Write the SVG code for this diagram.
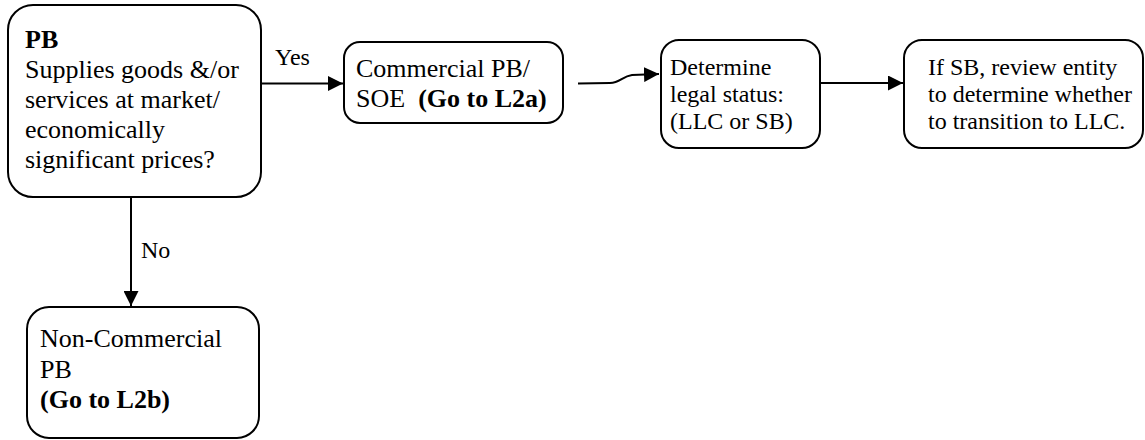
<svg xmlns="http://www.w3.org/2000/svg" width="1145" height="440" viewBox="0 0 1145 440">
<style>
.box{fill:#fff;stroke:#000;stroke-width:2}
text{font-family:'Liberation Serif',Tinos,'Times New Roman',Times,'DejaVu Serif',serif;fill:#000}
.big{font-size:26px}
.sm{font-size:24px}
.b{font-weight:bold}
.ln{fill:none;stroke:#000;stroke-width:2}
</style>
<defs>
<marker id="ah" markerWidth="15" markerHeight="15" refX="15" refY="7.5" orient="auto" markerUnits="userSpaceOnUse">
<path d="M0,0 L15,7.5 L0,15 Z" fill="#000"/>
</marker>
</defs>
<rect width="1145" height="440" fill="#fff"/>
<g id="connectors">
<line class="ln" x1="261" y1="83.5" x2="343" y2="83.5" marker-end="url(#ah)"/>
<path class="ln" d="M578,83.5 L610,83 C620,83 622,76.5 632,75 L659,74" marker-end="url(#ah)"/>
<line class="ln" x1="820" y1="83" x2="903" y2="83" marker-end="url(#ah)"/>
<line class="ln" x1="131" y1="197" x2="131" y2="306" marker-end="url(#ah)"/>
<text class="sm" x="275" y="65" font-family="Liberation Serif, serif">Yes</text>
<text class="sm" x="141" y="258" font-family="Liberation Serif, serif">No</text>
</g>
<g id="node-pb">
<rect class="box" x="8" y="5" width="253" height="192" rx="25"/>
<text class="big" font-family="Liberation Serif, serif"><tspan class="b" x="25" y="48">PB</tspan><tspan x="25" y="78">Supplies goods &amp;/or</tspan><tspan x="25" y="108">services at market/</tspan><tspan x="25" y="138">economically</tspan><tspan x="25" y="168">significant prices?</tspan></text>
</g>
<g id="node-commercial">
<rect class="box" x="344" y="42" width="219" height="81" rx="16"/>
<text class="big" font-family="Liberation Serif, serif" xml:space="preserve"><tspan x="356" y="77">Commercial PB/</tspan><tspan x="356" y="107">SOE  <tspan class="b">(Go to L2a)</tspan></tspan></text>
</g>
<g id="node-legal">
<rect class="box" x="661" y="40" width="159" height="108" rx="18"/>
<text class="sm" font-family="Liberation Serif, serif"><tspan x="670" y="75">Determine</tspan><tspan x="670" y="102">legal status:</tspan><tspan x="670" y="129">(LLC or SB)</tspan></text>
</g>
<g id="node-review">
<rect class="box" x="904" y="40" width="239" height="108" rx="18"/>
<text class="sm" font-family="Liberation Serif, serif"><tspan x="928" y="75">If SB, review entity</tspan><tspan x="928" y="102">to determine whether</tspan><tspan x="928" y="129">to transition to LLC.</tspan></text>
</g>
<g id="node-noncommercial">
<rect class="box" x="27" y="307" width="232" height="131" rx="22"/>
<text class="big" font-family="Liberation Serif, serif"><tspan x="40" y="347">Non-Commercial</tspan><tspan x="40" y="378">PB</tspan><tspan class="b" x="40" y="408">(Go to L2b)</tspan></text>
</g>
</svg>
